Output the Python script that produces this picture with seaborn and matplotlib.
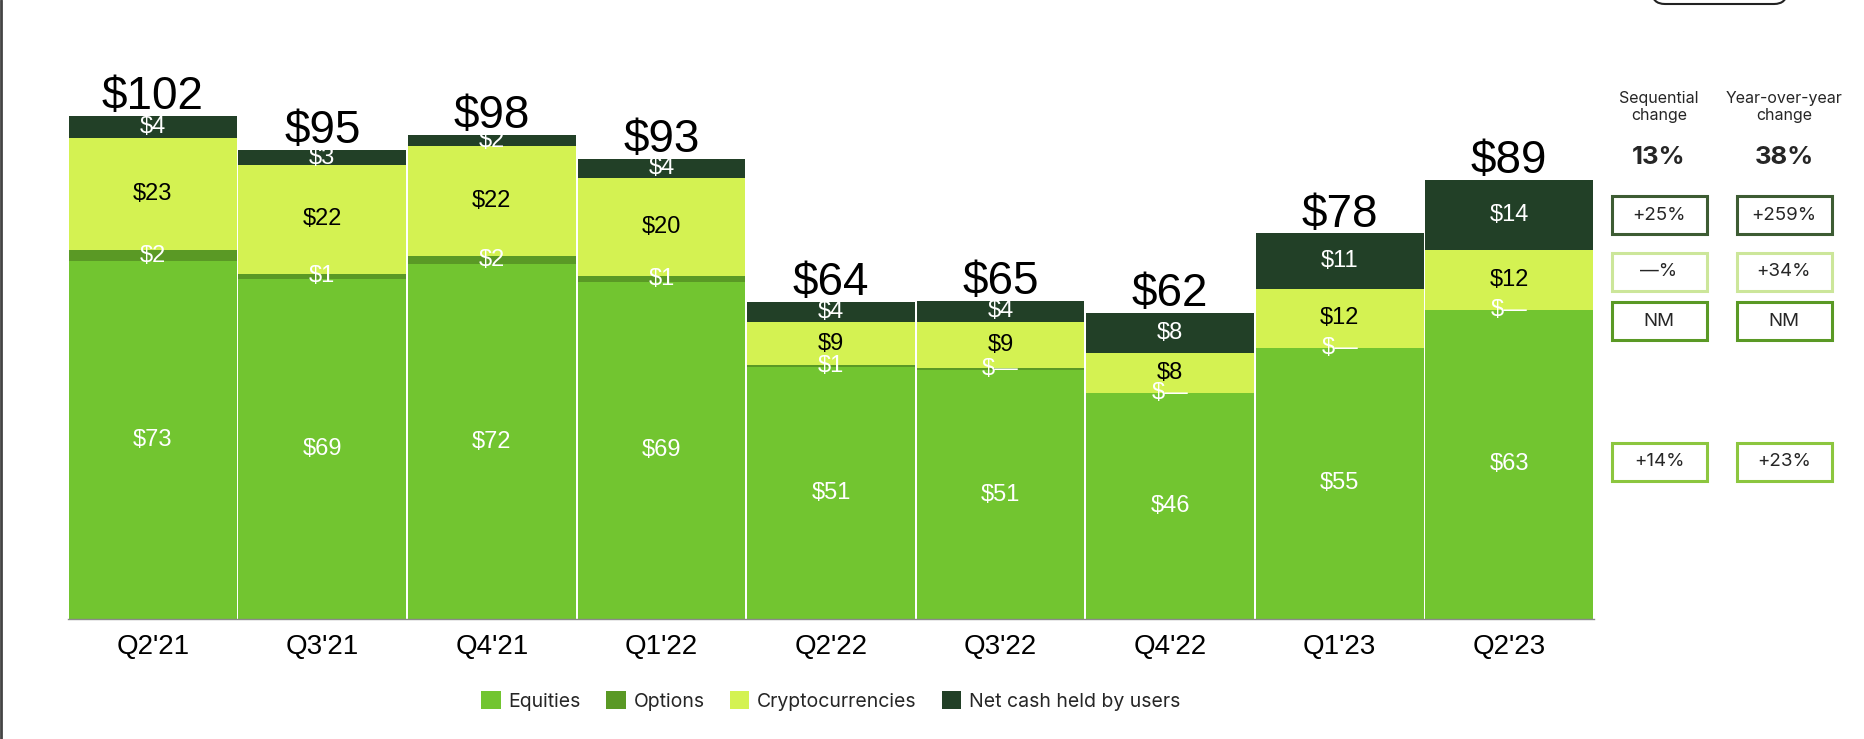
import numpy as np
import pandas as pd
import matplotlib
matplotlib.use('Agg')
import matplotlib.pyplot as plt
import seaborn as sns
from matplotlib.patches import Rectangle, FancyBboxPatch, Patch
from matplotlib.lines import Line2D

# ---- data ($ billions) ----
quarters = ["Q2'21", "Q3'21", "Q4'21", "Q1'22", "Q2'22", "Q3'22", "Q4'22", "Q1'23", "Q2'23"]
equities = [72.6, 69.0, 72.0, 68.4, 51.1, 50.5, 45.8, 55.0, 62.7]
options = [2.2, 1.0, 1.6, 1.2, 0.4, 0.5, 0.0, 0.0, 0.0]
crypto = [22.7, 22.1, 22.3, 19.9, 8.7, 9.3, 8.1, 12.0, 12.2]
net_cash = [4.5, 3.0, 2.2, 3.9, 4.1, 4.3, 8.1, 11.2, 14.2]

equities_labels = ['$73', '$69', '$72', '$69', '$51', '$51', '$46', '$55', '$63']
options_labels = ['$2', '$1', '$2', '$1', '$1', '$—', '$—', '$—', '$—']
crypto_labels = ['$23', '$22', '$22', '$20', '$9', '$9', '$8', '$12', '$12']
cash_labels = ['$4', '$3', '$2', '$4', '$4', '$4', '$8', '$11', '$14']

# right-hand panel: rows are cash, crypto, options, equities
seq_total = '13%'
yoy_total = '38%'
seq_changes = ['+25%', '—%', 'NM', '+14%']
yoy_changes = ['+259%', '+34%', 'NM', '+23%']

legend_names = ['Equities', 'Options', 'Cryptocurrencies', 'Net cash held by users']
colors = {'Equities': '#72C530', 'Options': '#5A9925',
          'Cryptocurrencies': '#D4F252', 'Net cash held by users': '#224027'}
box_colors = ['#3D5C33', '#CCE69A', '#5A9925', '#8CC63F']

df = pd.DataFrame({'quarter': quarters, 'equities': equities, 'options': options,
                   'crypto': crypto, 'cash': net_cash})
df['lvl_opt'] = df['equities'] + df['options']
df['lvl_crypto'] = df['lvl_opt'] + df['crypto']
df['total'] = df['lvl_crypto'] + df['cash']

W, H = 1864, 739
sns.set_theme(style='white')
plt.rcParams['font.family'] = ['Liberation Sans', 'DejaVu Sans']

fig = plt.figure(figsize=(W / 100, H / 100), dpi=100)
fig.patch.set_facecolor('white')


def fx(px):
    return px / W


def fy(py):
    return 1 - py / H


ax_top, ax_bottom = 20, 619
ax = fig.add_axes([fx(68), fy(ax_bottom), fx(1594) - fx(68), fy(ax_top) - fy(ax_bottom)])

# stacked bars: draw cumulative levels from the top down
layers = [('total', 'Net cash held by users'), ('lvl_crypto', 'Cryptocurrencies'),
          ('lvl_opt', 'Options'), ('equities', 'Equities')]
for col, name in layers:
    sns.barplot(data=df, x='quarter', y=col, color=colors[name], saturation=1,
                width=0.99, errorbar=None, linewidth=0, ax=ax)

ax.set_ylim(0, (ax_bottom - ax_top) / 4.93)
ax.set_xlim(-0.5, len(quarters) - 0.5)
ax.set_xlabel('')
ax.set_ylabel('')
ax.set_yticks([])
for s in ['top', 'right', 'left']:
    ax.spines[s].set_visible(False)
ax.spines['bottom'].set_color('#8a8a8a')
ax.spines['bottom'].set_linewidth(1)
ax.tick_params(axis='x', length=0, pad=11, labelsize=20, labelcolor='black')
ax.set_facecolor('white')

# segment labels
for i in range(len(quarters)):
    e = df['equities'][i]
    o = df['lvl_opt'][i]
    c = df['lvl_crypto'][i]
    t = df['total'][i]
    ax.text(i, e / 2, equities_labels[i], ha='center', va='center', fontsize=17, color='white')
    ax.text(i, (e + o) / 2, options_labels[i], ha='center', va='center', fontsize=17, color='white')
    ax.text(i, (o + c) / 2, crypto_labels[i], ha='center', va='center', fontsize=17, color='black')
    ax.text(i, (c + t) / 2, cash_labels[i], ha='center', va='center', fontsize=17, color='white')
    ax.annotate(f'${round(t)}', (i, t), xytext=(0, 5), textcoords='offset points',
                ha='center', va='baseline', fontsize=33, color='black')

# legend
handles = [Patch(facecolor=colors[n], edgecolor='none', label=n) for n in legend_names]
fig.legend(handles=handles, loc='center', bbox_to_anchor=(fx(831), fy(701)), ncol=4,
           frameon=False, handlelength=1.0, handleheight=1.0, handletextpad=0.4,
           columnspacing=1.3, prop={'family': 'Inter', 'size': 14})

# right-hand change panel
col_x = [1659, 1784]
for cx, head in zip(col_x, ['Sequential\nchange', 'Year-over-year\nchange']):
    fig.text(fx(cx), fy(107), head, ha='center', va='center', fontsize=11.5,
             family='Inter', linespacing=1.15)
fig.text(fx(col_x[0]), fy(158), seq_total, ha='center', va='center', fontsize=18.5,
         family='Inter', fontweight='bold')
fig.text(fx(col_x[1]), fy(158), yoy_total, ha='center', va='center', fontsize=18.5,
         family='Inter', fontweight='bold')

row_y = [215, 272, 321, 462]
box_w, box_h = 95, 38
for r, yc in enumerate(row_y):
    for cx, vals in zip(col_x, [seq_changes, yoy_changes]):
        fig.add_artist(Rectangle((fx(cx - box_w / 2), fy(yc + box_h / 2)), box_w / W, box_h / H,
                                 facecolor='white', edgecolor=box_colors[r], linewidth=2.2))
        fig.text(fx(cx), fy(yc), vals[r], ha='center', va='center', fontsize=13.5, family='Inter')

# page decorations: left border and cropped button at top right
fig.add_artist(Line2D([fx(1), fx(1)], [0, 1], color='#444444', linewidth=2))
fig.add_artist(FancyBboxPatch((16.52, 7.35), 1.35, 0.5,
                              boxstyle='round,pad=0,rounding_size=0.13',
                              transform=fig.dpi_scale_trans, facecolor='white',
                              edgecolor='#222222', linewidth=1.5))

fig.savefig('out.png', dpi=100, facecolor='white')
